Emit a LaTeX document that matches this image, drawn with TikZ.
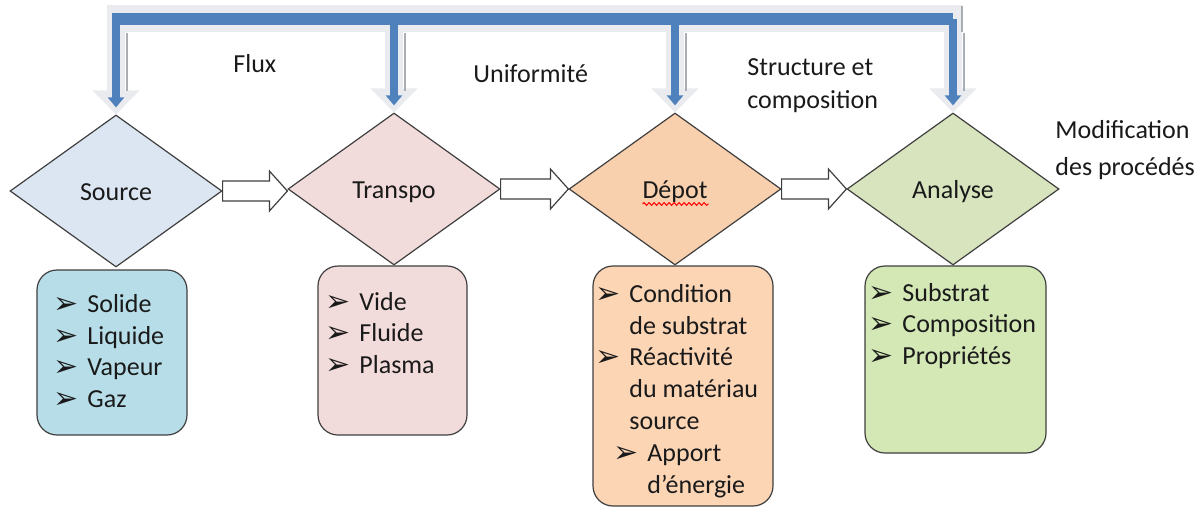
\documentclass[tikz,border=0pt]{standalone}
\usepackage{fontspec}
\setmainfont{Carlito}
\newfontfamily\dingfont{DejaVu Sans}
\usetikzlibrary{shapes.geometric, arrows.meta, calc, decorations.pathmorphing}

\definecolor{barblue}{HTML}{4F81BD}
\definecolor{halogray}{HTML}{E9EBEE}
\definecolor{shadowgray}{HTML}{A9AEB5}
\definecolor{linegray}{HTML}{3F3F3F}
\definecolor{textdark}{HTML}{1A1A1A}
\definecolor{srcfill}{HTML}{DCE6F2}
\definecolor{srcbox}{HTML}{B7DEE8}
\definecolor{trafill}{HTML}{F2DCDB}
\definecolor{depfill}{HTML}{F9D0AE}
\definecolor{depbox}{HTML}{FCD5B5}
\definecolor{anafill}{HTML}{D7E4BD}
\definecolor{anabox}{HTML}{D3E8B5}

% list bullets
\newcommand{\bul}{\makebox[17pt][l]{\raisebox{-0.5pt}{\dingfont\fontsize{15pt}{15pt}\selectfont ➢}}}
\newcommand{\nobul}{\hspace*{17pt}}

\begin{document}
\begin{tikzpicture}[x=0.5pt, y=-0.5pt,
    every node/.style={font=\fontsize{13pt}{15.75pt}\selectfont, text=textdark},
    decision/.style={draw=linegray, line width=0.6pt, diamond, minimum width=106pt,
        minimum height=76pt, inner sep=0pt, text height=9pt, text depth=0pt},
    listbox/.style={draw=linegray, line width=0.6pt, rounded corners=10pt, inner sep=0pt},
    listtext/.style={align=left, anchor=base west, inner sep=0pt},
    caption/.style={align=left, anchor=base west, inner sep=0pt},
    flowarrow/.style={draw=linegray, line width=0.6pt, fill=white},
    feedhalo/.style={halogray, line width=9pt, -{Triangle[width=23pt, length=12pt]}},
    feedarrow/.style={barblue, line width=4pt, -{Triangle[width=8pt, length=5pt]}, shorten >=3.5pt},
]
    \useasboundingbox (0,0) rectangle (1202,508);

    % steps
    \node[decision, fill=srcfill] (src) at (116,191) {Source};
    \node[decision, fill=trafill] (tra) at (394,189) {Transpo};
    \node[decision, fill=depfill] (dep) at (675,189) {Dépot};
    \node[decision, fill=anafill] (ana) at (953,189) {Analyse};

    \draw[red, line width=0.5pt, decorate, decoration={snake, amplitude=0.7pt, segment length=2.5pt}]
        ($(dep.text)+(0,6)$) -- ++(66,0);

    % lists under the steps (anchored on the last line)
    \node[listbox, fill=srcbox, minimum width=75pt, minimum height=82.5pt] (srclist) at (112,352.5) {};
    \node[listbox, fill=trafill, minimum width=74.5pt, minimum height=84.5pt] (tralist) at (392.5,350.5) {};
    \node[listbox, fill=depbox, minimum width=90pt, minimum height=120pt] (deplist) at (683,386) {};
    \node[listbox, fill=anabox, minimum width=90.5pt, minimum height=93.5pt] (analist) at (955.5,359.5) {};

    \node[listtext] (srcitems) at (53,407) {\bul Solide\\ \bul Liquide\\ \bul Vapeur\\ \bul Gaz};
    \node[listtext] (traitems) at (325,373) {\bul Vide\\ \bul Fluide\\ \bul Plasma};
    \node[listtext, font=\fontsize{13pt}{15.9pt}\selectfont] (depitems) at (595,493)
        {\bul Condition\\ \nobul de substrat\\ \bul Réactivité\\ \nobul du matériau\\ \nobul source\\
         \hspace*{9pt}\bul Apport\\ \hspace*{9pt}\nobul d’énergie};
    \node[listtext] (anaitems) at (868,364) {\bul Substrat\\ \bul Composition\\ \bul Propriétés};

    % forward arrows
    \foreach \a/\b in {src/tra, tra/dep, dep/ana} {
        \draw[flowarrow] let \p1=(\a.east), \p2=(\b.west) in
            (\x1,\y1+5pt) -- (\x2-9pt,\y1+5pt) -- (\x2-9pt,\y1+10pt) -- (\x2,\y1)
            -- (\x2-9pt,\y1-10pt) -- (\x2-9pt,\y1-5pt) -- (\x1,\y1-5pt) -- cycle;
    }

    % feedback bar
    \coordinate (barL) at (112,19);
    \coordinate (barR) at (953,19);
    \draw[halogray, line width=13.5pt] ($(barL)+(-5,0)$) -- ($(barR)+(9,0)$);
    \foreach \d in {src, tra, dep, ana} {
        \draw[feedhalo] (\d.north |- barL) -- (\d.north);
        \draw[shadowgray, line width=1pt] ($(\d.north |- barL)+(11,14)$) -- ++(0,58);
    }
    \draw[shadowgray, line width=1pt] ($(barR)+(9,-13)$) -- ++(0,26);
    \foreach \d in {src, tra, dep, ana} {
        \draw[feedarrow] (\d.north |- barL) -- (\d.north);
    }
    \draw[barblue, line width=6pt] (barL) -- (barR);

    % captions
    \node[caption] (flux) at (233,73) {Flux};
    \node[caption] (unif) at (473,83) {Uniformité};
    \node[caption, font=\fontsize{13pt}{16.5pt}\selectfont] (struct) at (747,108) {Structure et\\composition};
    \node[caption, font=\fontsize{13pt}{18.5pt}\selectfont] (modif) at (1055,175) {Modification\\des procédés};
\end{tikzpicture}
\end{document}
